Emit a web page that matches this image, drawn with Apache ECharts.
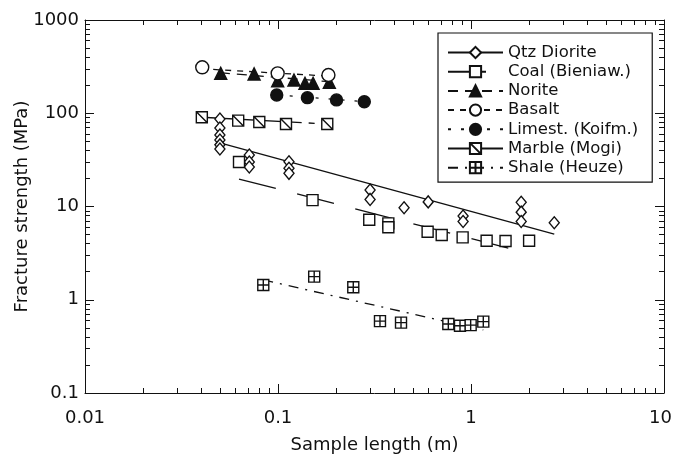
<!DOCTYPE html>
<html><head><meta charset="utf-8">
<script src="https://cdn.jsdelivr.net/npm/echarts@6/dist/echarts.min.js"></script>
<style>html,body{margin:0;padding:0;background:#fff}#c{width:673px;height:458px}</style>
</head><body><div id="c"></div>
<script>
// ---- tick labels ----
const xTickLabels = [0.01, 0.1, 1, 10];
const yTickLabels = [0.1, 1, 10, 100, 1000];
const minorMultipliers = [2, 3, 4, 5, 6, 7, 8, 9];

// ---- series names ----
const names = ['Qtz Diorite', 'Coal (Bieniaw.)', 'Norite', 'Basalt', 'Limest. (Koifm.)', 'Marble (Mogi)', 'Shale (Heuze)'];

// ---- measured points ----
const qtzX = [0.05, 0.05, 0.05, 0.05, 0.05, 0.05, 0.071, 0.071, 0.071, 0.114, 0.114, 0.114, 0.30, 0.30, 0.45, 0.60, 0.91, 0.91, 1.82, 1.82, 1.82, 2.7];
const qtzY = [86.7, 69.5, 58.4, 51.7, 45.8, 41.4, 35.6, 30.0, 26.5, 30.2, 25.7, 22.7, 15.0, 11.9, 9.7, 11.2, 7.9, 6.9, 11.1, 8.7, 6.9, 6.7];
const coalX = [0.0628, 0.151, 0.297, 0.373, 0.373, 0.596, 0.705, 0.905, 1.205, 1.51, 2.0];
const coalY = [30.0, 11.7, 7.2, 6.6, 6.0, 5.37, 4.94, 4.67, 4.30, 4.27, 4.30];
const noriteX = [0.0505, 0.0752, 0.0996, 0.121, 0.138, 0.152, 0.1845];
const noriteY = [268, 264, 223, 227, 209, 209, 215];
const basaltX = [0.0405, 0.0996, 0.1825];
const basaltY = [311, 268, 257];
const limeX = [0.0985, 0.142, 0.201, 0.280];
const limeY = [157, 147, 139, 133];
const marbleX = [0.0403, 0.0622, 0.080, 0.110, 0.180];
const marbleY = [90.6, 83.3, 80.5, 76.7, 76.7];
const shaleX = [0.0839, 0.154, 0.2455, 0.3376, 0.4339, 0.763, 0.877, 0.996, 1.158];
const shaleY = [1.44, 1.77, 1.36, 0.59, 0.568, 0.55, 0.527, 0.535, 0.582];

// ---- fitted trend lines (end points) ----
const qtzLineX = [0.05, 2.7],      qtzLineY = [48, 5.07];
const coalLineX = [0.0628, 1.845], coalLineY = [19.7, 3.27];
const noriteLineX = [0.05, 0.185], noriteLineY = [272, 218];
const basaltLineX = [0.04, 0.185], basaltLineY = [300, 250];
const limeLineX = [0.0985, 0.28],  limeLineY = [157, 133];
const marbleLineX = [0.0403, 0.18], marbleLineY = [90.6, 76.7];
const shaleLineX = [0.0839, 1.158], shaleLineY = [1.63, 0.474];

function minorTicks(majors) {
  const out = [];
  for (let i = 0; i < majors.length - 1; i++) {
    minorMultipliers.forEach(m => out.push(+(majors[i] * m).toPrecision(6)));
  }
  return out;
}
const xMinor = minorTicks(xTickLabels);
const yMinor = minorTicks(yTickLabels);

const FONT = 'DejaVu Sans';
const BLACK = '#111';
const zip = (xs, ys) => xs.map((x, i) => [x, ys[i]]);

const marker = {
  qtz:    {symbol: 'diamond', size: [10, 12], fill: '#fff'},
  coal:   {symbol: 'rect', size: 11, fill: '#fff'},
  norite: {symbol: 'triangle', size: 12, fill: BLACK},
  basalt: {symbol: 'circle', size: 13, fill: '#fff'},
  lime:   {symbol: 'circle', size: 12, fill: BLACK},
  marble: {symbol: 'path://M0,0H10V10H0Z M0,0L10,10', size: 11, fill: '#fff'},
  shale:  {symbol: 'path://M0,0H10V10H0Z M5,0V10 M0,5H10', size: 11, fill: '#fff'}
};
const lineDefs = [
  ['qtz', qtzLineX, qtzLineY, 'solid'],
  ['coal', coalLineX, coalLineY, [38, 22]],
  ['norite', noriteLineX, noriteLineY, [10, 7]],
  ['basalt', basaltLineX, basaltLineY, [6, 6]],
  ['lime', limeLineX, limeLineY, [3, 10]],
  ['marble', marbleLineX, marbleLineY, [100, 7, 6, 9]],
  ['shale', shaleLineX, shaleLineY, [10, 7, 2, 7]]
];
const pointDefs = [
  ['qtz', qtzX, qtzY], ['coal', coalX, coalY], ['norite', noriteX, noriteY],
  ['basalt', basaltX, basaltY], ['lime', limeX, limeY], ['marble', marbleX, marbleY],
  ['shale', shaleX, shaleY]
];

const series = [];
lineDefs.forEach((d, i) => {
  const m = marker[d[0]];
  series.push({
    name: names[i], type: 'line', xAxisIndex: 0, yAxisIndex: 0,
    data: zip(d[1], d[2]), showSymbol: false, symbol: m.symbol, symbolSize: m.size,
    itemStyle: {color: m.fill, borderColor: BLACK, borderWidth: 1.4},
    lineStyle: {color: BLACK, width: 1.3, type: d[3]},
    silent: true, z: 2
  });
});
pointDefs.forEach((d, i) => {
  const m = marker[d[0]];
  series.push({
    name: names[i], type: 'scatter', xAxisIndex: 0, yAxisIndex: 0,
    data: zip(d[1], d[2]), symbol: m.symbol, symbolSize: m.size,
    itemStyle: {color: m.fill, borderColor: BLACK, borderWidth: 1.4, opacity: 1},
    z: 3
  });
});

const axisLineStyle = {color: BLACK, width: 1};
function xAx(pos, major) {
  return {
    type: 'log', logBase: 10, min: 0.01, max: 10, position: pos, gridIndex: 0,
    axisLine: {show: major, onZero: false, lineStyle: axisLineStyle},
    axisTick: major ? {show: true, inside: true, length: 9, lineStyle: axisLineStyle}
                    : {show: true, inside: true, length: 5, customValues: xMinor, lineStyle: axisLineStyle},
    axisLabel: {show: false},
    splitLine: {show: false}, minorTick: {show: false}
  };
}
function yAx(pos, major) {
  return {
    type: 'log', logBase: 10, min: 0.1, max: 1000, position: pos, gridIndex: 0,
    axisLine: {show: major, onZero: false, lineStyle: axisLineStyle},
    axisTick: major ? {show: true, inside: true, length: 9, lineStyle: axisLineStyle}
                    : {show: true, inside: true, length: 5, customValues: yMinor, lineStyle: axisLineStyle},
    axisLabel: {show: false},
    splitLine: {show: false}, minorTick: {show: false}
  };
}
const xAxes = [xAx('bottom', true), xAx('bottom', false), xAx('top', true), xAx('top', false)];
const yAxes = [yAx('left', true), yAx('left', false), yAx('right', true), yAx('right', false)];
const fmt = v => String(+(+v).toPrecision(6));
Object.assign(xAxes[0], {
  name: 'Sample length (m)', nameLocation: 'middle', nameGap: 43, nameMoveOverlap: false,
  nameTextStyle: {fontFamily: FONT, fontSize: 18, color: BLACK},
  axisLabel: {show: true, customValues: xTickLabels, fontFamily: FONT, fontSize: 18, color: BLACK, margin: 16,
    formatter: v => (+v === xTickLabels[xTickLabels.length - 1] ? '{r|' + fmt(v) + '}' : fmt(v)),
    rich: {r: {fontFamily: FONT, fontSize: 18, color: BLACK, padding: [0, 7, 0, 0]}}}
});
Object.assign(yAxes[0], {
  name: 'Fracture strength (MPa)', nameLocation: 'middle', nameGap: 54, nameMoveOverlap: false,
  nameTextStyle: {fontFamily: FONT, fontSize: 18, color: BLACK},
  axisLabel: {show: true, customValues: yTickLabels, fontFamily: FONT, fontSize: 18, color: BLACK, margin: 6,
    formatter: fmt}
});
xAxes[0].axisTick.customValues = xTickLabels;
xAxes[2].axisTick.customValues = xTickLabels;
yAxes[0].axisTick.customValues = yTickLabels;
yAxes[2].axisTick.customValues = yTickLabels;

const chart = echarts.init(document.getElementById('c'), null, {renderer: 'canvas'});
chart.setOption({
  animation: false,
  backgroundColor: '#fff',
  grid: {left: 85, right: 9, top: 20, bottom: 65, containLabel: false, outerBoundsMode: 'none'},
  legend: {
    data: names, orient: 'vertical', left: 438, top: 33,
    padding: [11, 14, 6, 9], itemGap: 2.2, itemWidth: 55, itemHeight: 14,
    backgroundColor: '#fff', borderColor: BLACK, borderWidth: 1.2,
    textStyle: {fontFamily: FONT, fontSize: 16.5, color: BLACK, lineHeight: 17},
    selectedMode: false
  },
  xAxis: xAxes,
  yAxis: yAxes,
  series: series
});
</script></body></html>
